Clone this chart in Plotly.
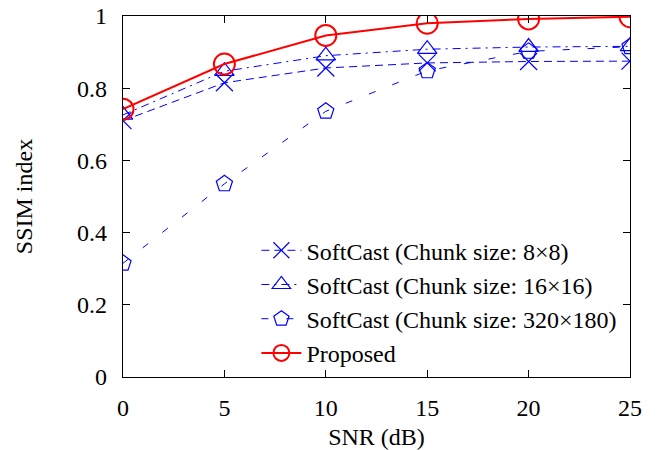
import plotly.graph_objects as go

snr = [0, 5, 10, 15, 20, 25]
ssim_8x8 = [0.710, 0.815, 0.856, 0.870, 0.874, 0.875]
ssim_16x16 = [0.726, 0.847, 0.890, 0.908, 0.914, 0.916]
ssim_320x180 = [0.315, 0.535, 0.736, 0.848, 0.902, 0.915]
ssim_proposed = [0.742, 0.867, 0.946, 0.980, 0.992, 0.998]

names = ["SoftCast (Chunk size: 8×8)", "SoftCast (Chunk size: 16×16)",
         "SoftCast (Chunk size: 320×180)", "Proposed"]

FONT = "Liberation Serif, Times New Roman, serif"
FS = 24
BLUE = "#0000ff"
RED = "#ff0000"

fig = go.Figure()
fig.add_trace(go.Scatter(x=snr, y=ssim_8x8, name=names[0], mode="lines+markers",
                         line=dict(color=BLUE, width=1, dash="8px,5px"),
                         marker=dict(symbol="x-thin-open", size=17, line=dict(color=BLUE, width=1.2))))
fig.add_trace(go.Scatter(x=snr, y=ssim_16x16, name=names[1], mode="lines+markers",
                         line=dict(color=BLUE, width=1, dash="8px,5px,2px,5px"),
                         marker=dict(symbol="triangle-up-open", size=17, color=BLUE, line=dict(width=1.2))))
fig.add_trace(go.Scatter(x=snr, y=ssim_320x180, name=names[2], mode="lines+markers",
                         line=dict(color=BLUE, width=1, dash="7px,18px"),
                         marker=dict(symbol="pentagon-open", size=17, color=BLUE, line=dict(width=1.2))))
fig.add_trace(go.Scatter(x=snr, y=ssim_proposed, name=names[3], mode="lines+markers",
                         line=dict(color=RED, width=2),
                         marker=dict(symbol="circle-open", size=21, color=RED, line=dict(width=2))))

axis_common = dict(showline=True, linecolor="black", linewidth=1.2, mirror="allticks",
                   ticks="inside", ticklen=7, tickcolor="black", showgrid=False, zeroline=False,
                   automargin=False,
                   tickfont=dict(family=FONT, size=FS, color="black"))

fig.update_layout(
    width=666, height=450,
    margin=dict(l=123, r=36, t=16, b=73),
    plot_bgcolor="white", paper_bgcolor="white",
    font=dict(family=FONT, size=FS, color="black"),
    xaxis=dict(range=[0, 25], tickvals=[0, 5, 10, 15, 20, 25], ticklabelstandoff=9,
               title=dict(text="SNR (dB)", font=dict(family=FONT, size=FS), standoff=14),
               **axis_common),
    yaxis=dict(range=[0, 1], tickvals=[0, 0.2, 0.4, 0.6, 0.8, 1],
               ticktext=["0", "0.2", "0.4", "0.6", "0.8", "1"], ticklabelstandoff=10,
               title=dict(text="SSIM index", font=dict(family=FONT, size=FS), standoff=37),
               **axis_common),
    legend=dict(x=0.985, xanchor="right", y=0.005, yanchor="bottom", bgcolor="rgba(0,0,0,0)",
                font=dict(family=FONT, size=FS), tracegroupgap=0, itemwidth=40),
    showlegend=True,
)

fig.write_html("out.html")
